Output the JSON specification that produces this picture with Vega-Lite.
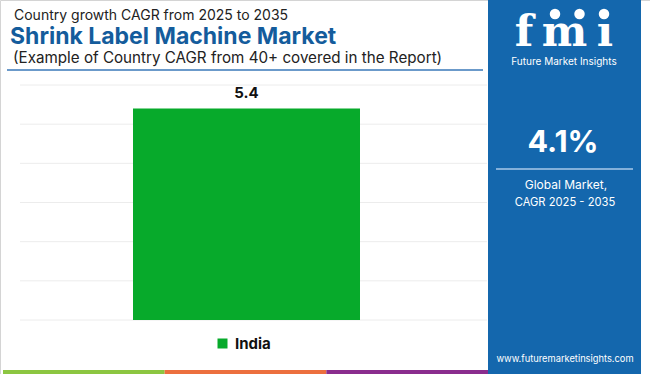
{
  "$schema": "https://vega.github.io/schema/vega-lite/v6.json",
  "width": 650,
  "height": 374,
  "autosize": {"type": "none"},
  "padding": 0,
  "background": "#ffffff",
  "config": {"view": {"stroke": "#d4d4d4"}, "font": "Inter"},
  "resolve": {"scale": {"x": "independent", "y": "independent", "color": "independent"}},
  "layer": [
    {
      "data": {"values": [{"tick": 0}, {"tick": 1}, {"tick": 2}, {"tick": 3}, {"tick": 4}, {"tick": 5}, {"tick": 6}]},
      "mark": {"type": "rule", "color": "#ececec", "strokeWidth": 1},
      "encoding": {
        "y": {"field": "tick", "type": "quantitative", "scale": {"domain": [0, 6], "range": [320, 85]}, "axis": null},
        "x": {"datum": 0, "type": "quantitative", "scale": {"domain": [0, 1], "range": [20, 487]}, "axis": null},
        "x2": {"datum": 1}
      }
    },
    {
      "data": {"values": [{"country": "India", "cagr": 5.4}]},
      "encoding": {
        "x": {"field": "country", "type": "nominal", "scale": {"range": [133, 360], "paddingInner": 0, "paddingOuter": 0}, "axis": null},
        "y": {"field": "cagr", "type": "quantitative", "scale": {"domain": [0, 6], "range": [320, 85]}, "axis": null}
      },
      "layer": [
        {
          "mark": {"type": "bar"},
          "encoding": {
            "color": {
              "field": "country", "type": "nominal",
              "scale": {"range": ["#07aa2b"]},
              "legend": {
                "orient": "none", "legendX": 215, "legendY": 336, "title": null, "padding": 0,
                "symbolType": "square", "symbolSize": 100, "symbolStrokeWidth": 0,
                "labelFont": "Inter", "labelFontSize": 15, "labelFontWeight": "bold", "labelColor": "#111111", "labelOffset": 5
              }
            }
          }
        },
        {
          "mark": {"type": "text", "baseline": "alphabetic", "dy": -11, "font": "Inter", "fontWeight": "bold", "fontSize": 15, "color": "#111111"},
          "encoding": {"text": {"field": "cagr", "type": "quantitative", "format": ".1f"}}
        }
      ]
    },
    {
      "data": {"values": [{"segment": "a"}, {"segment": "b"}, {"segment": "c"}]},
      "mark": {"type": "rect"},
      "encoding": {
        "x": {"field": "segment", "type": "nominal", "scale": {"range": [3, 488], "paddingInner": 0, "paddingOuter": 0}, "axis": null},
        "y": {"datum": 0, "type": "quantitative", "scale": {"domain": [0, 1], "range": [370, 374]}, "axis": null},
        "y2": {"datum": 1},
        "color": {"field": "segment", "type": "nominal", "scale": {"range": ["#8cc641", "#ec6f3e", "#8a2d8e"]}, "legend": null}
      }
    },
    {
      "layer": [
        {
          "data": {"values": [{"part": "panel"}]},
          "mark": {"type": "rect", "color": "#1467ad"},
          "encoding": {
            "x": {"datum": 488, "type": "quantitative", "scale": {"domain": [0, 650], "range": [0, 650]}, "axis": null},
            "x2": {"datum": 641},
            "y": {"datum": 0, "type": "quantitative", "scale": {"domain": [0, 374], "range": [0, 374]}, "axis": null},
            "y2": {"datum": 374}
          }
        },
        {
          "data": {"values": [{"part": "title rule"}]},
          "mark": {"type": "rule", "color": "#3a78b8", "strokeWidth": 1.5},
          "encoding": {
            "x": {"datum": 7, "type": "quantitative", "scale": {"domain": [0, 650], "range": [0, 650]}, "axis": null},
            "x2": {"datum": 483},
            "y": {"datum": 70, "type": "quantitative", "scale": {"domain": [0, 374], "range": [0, 374]}, "axis": null}
          }
        },
        {
          "data": {"values": [{"part": "panel rule"}]},
          "mark": {"type": "rule", "color": "#a9c9ea", "strokeWidth": 1.5},
          "encoding": {
            "x": {"datum": 496, "type": "quantitative", "scale": {"domain": [0, 650], "range": [0, 650]}, "axis": null},
            "x2": {"datum": 633},
            "y": {"datum": 169, "type": "quantitative", "scale": {"domain": [0, 374], "range": [0, 374]}, "axis": null}
          }
        },
        {
          "data": {"values": [{"text": "Country growth CAGR from 2025 to 2035"}]},
          "mark": {"type": "text", "align": "left", "baseline": "alphabetic", "font": "Inter", "fontSize": 14, "color": "#222222"},
          "encoding": {
            "x": {"datum": 14, "type": "quantitative", "scale": {"domain": [0, 650], "range": [0, 650]}, "axis": null},
            "y": {"datum": 20, "type": "quantitative", "scale": {"domain": [0, 374], "range": [0, 374]}, "axis": null},
            "text": {"field": "text"}
          }
        },
        {
          "data": {"values": [{"text": "Shrink Label Machine Market"}]},
          "mark": {"type": "text", "align": "left", "baseline": "alphabetic", "font": "Inter", "fontWeight": "bold", "fontSize": 23, "color": "#145c9c"},
          "encoding": {
            "x": {"datum": 10, "type": "quantitative", "scale": {"domain": [0, 650], "range": [0, 650]}, "axis": null},
            "y": {"datum": 44, "type": "quantitative", "scale": {"domain": [0, 374], "range": [0, 374]}, "axis": null},
            "text": {"field": "text"}
          }
        },
        {
          "data": {"values": [{"text": "(Example of Country CAGR from 40+ covered in the Report)"}]},
          "mark": {"type": "text", "align": "left", "baseline": "alphabetic", "font": "Inter", "fontSize": 15.2, "color": "#222222"},
          "encoding": {
            "x": {"datum": 13, "type": "quantitative", "scale": {"domain": [0, 650], "range": [0, 650]}, "axis": null},
            "y": {"datum": 62.5, "type": "quantitative", "scale": {"domain": [0, 374], "range": [0, 374]}, "axis": null},
            "text": {"field": "text"}
          }
        },
        {
          "data": {"values": [{"text": "Future Market Insights"}]},
          "mark": {"type": "text", "align": "center", "baseline": "alphabetic", "font": "Inter", "fontSize": 10, "color": "#ffffff"},
          "encoding": {
            "x": {"datum": 564, "type": "quantitative", "scale": {"domain": [0, 650], "range": [0, 650]}, "axis": null},
            "y": {"datum": 65, "type": "quantitative", "scale": {"domain": [0, 374], "range": [0, 374]}, "axis": null},
            "text": {"field": "text"}
          }
        },
        {
          "data": {"values": [{"region": "Global", "label": "4.1%", "cagr": 4.1}]},
          "mark": {"type": "text", "align": "center", "baseline": "alphabetic", "font": "Inter", "fontWeight": "bold", "fontSize": 30.5, "color": "#ffffff"},
          "encoding": {
            "x": {"datum": 563, "type": "quantitative", "scale": {"domain": [0, 650], "range": [0, 650]}, "axis": null},
            "y": {"datum": 152, "type": "quantitative", "scale": {"domain": [0, 374], "range": [0, 374]}, "axis": null},
            "text": {"field": "label"}
          }
        },
        {
          "data": {"values": [{"text": "Global Market,"}]},
          "mark": {"type": "text", "align": "center", "baseline": "alphabetic", "font": "Inter", "fontSize": 12, "color": "#ffffff"},
          "encoding": {
            "x": {"datum": 566, "type": "quantitative", "scale": {"domain": [0, 650], "range": [0, 650]}, "axis": null},
            "y": {"datum": 189, "type": "quantitative", "scale": {"domain": [0, 374], "range": [0, 374]}, "axis": null},
            "text": {"field": "text"}
          }
        },
        {
          "data": {"values": [{"text": "CAGR 2025 - 2035"}]},
          "mark": {"type": "text", "align": "center", "baseline": "alphabetic", "font": "Inter", "fontSize": 11.2, "color": "#ffffff"},
          "encoding": {
            "x": {"datum": 565, "type": "quantitative", "scale": {"domain": [0, 650], "range": [0, 650]}, "axis": null},
            "y": {"datum": 206, "type": "quantitative", "scale": {"domain": [0, 374], "range": [0, 374]}, "axis": null},
            "text": {"field": "text"}
          }
        },
        {
          "data": {"values": [{"text": "www.futuremarketinsights.com"}]},
          "mark": {"type": "text", "align": "center", "baseline": "alphabetic", "font": "Inter", "fontSize": 9.3, "color": "#ffffff"},
          "encoding": {
            "x": {"datum": 565, "type": "quantitative", "scale": {"domain": [0, 650], "range": [0, 650]}, "axis": null},
            "y": {"datum": 362, "type": "quantitative", "scale": {"domain": [0, 374], "range": [0, 374]}, "axis": null},
            "text": {"field": "text"}
          }
        }
      ]
    },
    {
      "data": {"values": [{"glyph": "f"}, {"glyph": "m"}, {"glyph": "ı"}]},
      "mark": {"type": "text", "align": "center", "baseline": "alphabetic", "font": "DejaVu Serif", "fontWeight": "bold", "fontSize": 43, "color": "#ffffff"},
      "encoding": {
        "x": {"field": "glyph", "type": "nominal", "sort": null, "scale": {"type": "point", "range": [524, 605], "padding": 0}, "axis": null},
        "y": {"datum": 46, "type": "quantitative", "scale": {"domain": [0, 374], "range": [0, 374]}, "axis": null},
        "text": {"field": "glyph"}
      }
    },
    {
      "data": {"values": [{"globe": "a"}, {"globe": "b"}, {"globe": "c"}]},
      "mark": {"type": "point", "filled": true, "shape": "circle", "size": 110, "color": "#ffffff", "opacity": 1},
      "encoding": {
        "x": {"field": "globe", "type": "nominal", "scale": {"type": "point", "range": [555, 604], "padding": 0}, "axis": null},
        "y": {"datum": 14, "type": "quantitative", "scale": {"domain": [0, 374], "range": [0, 374]}, "axis": null}
      }
    }
  ]
}
